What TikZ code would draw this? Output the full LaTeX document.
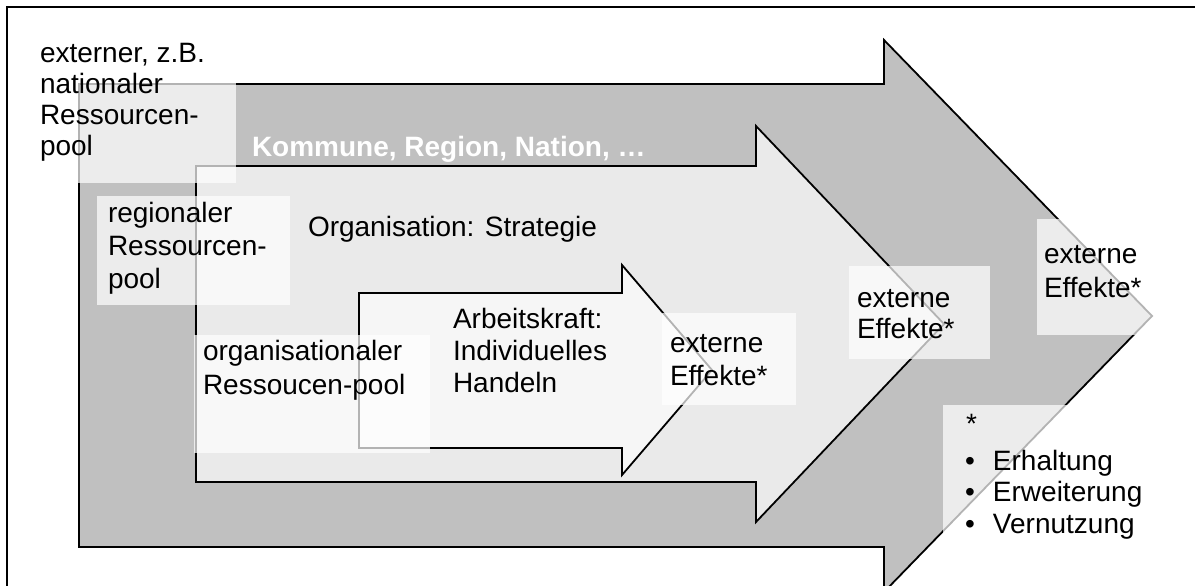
\documentclass[tikz,border=0pt]{standalone}
\usepackage{fontspec}
\setmainfont{Liberation Sans}
\definecolor{bigc}{RGB}{192,192,192}
\definecolor{midc}{RGB}{234,234,234}
\definecolor{smallc}{RGB}{246,246,246}
\begin{document}
\begin{tikzpicture}[x=1pt,y=-1pt,
  txt/.style={font=\fontsize{28}{32}\selectfont, inner sep=0pt, outer sep=0pt, anchor=base west, align=left},
  stipple/.style={fill=white, fill opacity=0.7},
  arrowshape/.style={draw=black, line width=1.8pt, line join=miter},
  framestyle/.style={draw=black, line width=1.5pt}]
\useasboundingbox (0,0) rectangle (1195,586);
\clip (0,0) rectangle (1195,586);
% frame (right and bottom edges lie outside the picture)
\draw[framestyle] (7,7) rectangle (1220,620);
% big arrow
\draw[arrowshape, fill=bigc] (79,84) -- (884,84) -- (884,40) -- (1152,316) -- (884,592) -- (884,547) -- (79,547) -- cycle;
% medium arrow
\draw[arrowshape, fill=midc] (196,166) -- (756,166) -- (756,126) -- (944,324) -- (756,522) -- (756,482) -- (196,482) -- cycle;
% small arrow
\draw[arrowshape, fill=smallc] (359,293) -- (622,293) -- (622,265) -- (712,370) -- (622,475) -- (622,448) -- (359,448) -- cycle;
% stippled text boxes
\fill[stipple] (35,20) rectangle (236,183);
\fill[stipple] (97,196) rectangle (290,305);
\fill[stipple] (194,335) rectangle (430,453);
\fill[stipple] (662,313) rectangle (796,405);
\fill[stipple] (849,266) rectangle (990,359);
\fill[stipple] (1037,219) rectangle (1170,335);
\fill[stipple] (943,405) rectangle (1180,555);
% texts (anchor = baseline of the last line)
\node[txt, font=\fontsize{28}{31}\selectfont] (natpool) at (40,155) {externer, z.B.\\nationaler\\Ressourcen-\\pool};
\node[txt, text=white, font=\fontsize{28}{32}\selectfont\bfseries] (kommune) at (252,156) {Kommune, Region, Nation, …};
\node[txt] (strategie) at (308,236) {Organisation: Strategie};
\node[txt, font=\fontsize{28}{33}\selectfont] (regpool) at (108,288) {regionaler\\Ressourcen-\\pool};
\node[txt, font=\fontsize{28}{34}\selectfont] (orgpool) at (203,394) {organisationaler\\Ressoucen-pool};
\node[txt] (arbeit) at (453,392) {Arbeitskraft:\\Individuelles\\Handeln};
\node[txt, font=\fontsize{28}{33}\selectfont] (eff1) at (670,385) {externe\\Effekte*};
\node[txt, font=\fontsize{28}{31}\selectfont] (eff2) at (857,338) {externe\\Effekte*};
\node[txt, font=\fontsize{28}{34}\selectfont] (eff3) at (1044,297) {externe\\Effekte*};
\node[txt] (star) at (966,433) {*};
\node[txt, font=\fontsize{28}{31.5}\selectfont] (list) at (965,533) {\makebox[28pt][l]{•}Erhaltung\\\makebox[28pt][l]{•}Erweiterung\\\makebox[28pt][l]{•}Vernutzung};
\end{tikzpicture}
\end{document}
